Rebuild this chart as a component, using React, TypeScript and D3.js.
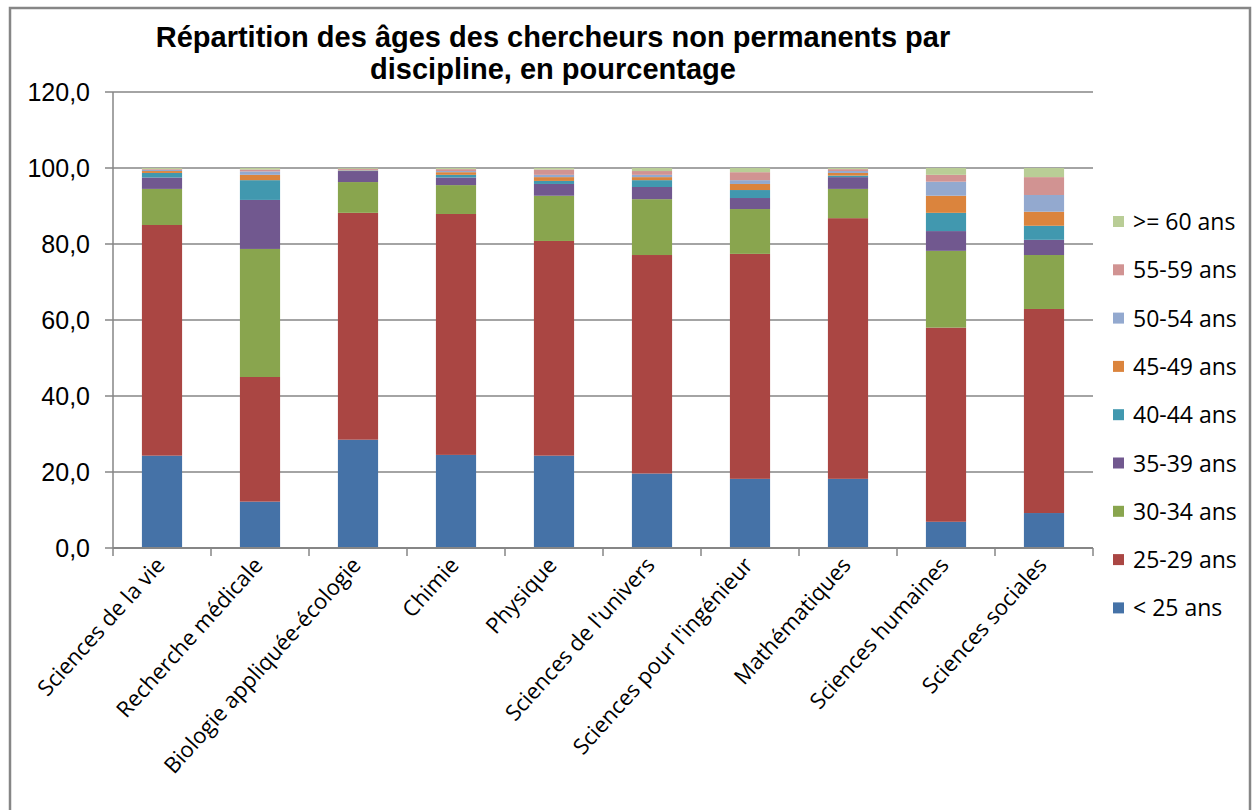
import React from "react";
import * as d3 from "d3";

const categories = [
  "Sciences de la vie",
  "Recherche médicale",
  "Biologie appliquée-écologie",
  "Chimie",
  "Physique",
  "Sciences de l'univers",
  "Sciences pour l'ingénieur",
  "Mathématiques",
  "Sciences humaines",
  "Sciences sociales",
];

const seriesNames = [
  "< 25 ans",
  "25-29 ans",
  "30-34 ans",
  "35-39 ans",
  "40-44 ans",
  "45-49 ans",
  "50-54 ans",
  "55-59 ans",
  ">= 60 ans",
];

const lt25 = [24.3, 12.2, 28.5, 24.5, 24.3, 19.6, 18.2, 18.2, 6.9, 9.2];
const a25_29 = [60.7, 32.8, 59.7, 63.4, 56.5, 57.5, 59.2, 68.6, 51.1, 53.7];
const a30_34 = [9.5, 33.7, 8.1, 7.6, 11.9, 14.7, 11.8, 7.7, 20.2, 14.2];
const a35_39 = [3.0, 12.9, 2.9, 2.0, 3.1, 3.2, 2.9, 3.1, 5.2, 4.0];
const a40_44 = [1.2, 5.2, 0.1, 0.7, 0.8, 1.8, 2.1, 0.4, 4.8, 3.7];
const a45_49 = [0.5, 1.4, 0.1, 0.7, 1.0, 0.8, 1.6, 0.7, 4.5, 3.7];
const a50_54 = [0.3, 0.9, 0.1, 0.3, 0.6, 0.6, 1.0, 0.5, 3.7, 4.4];
const a55_59 = [0.2, 0.5, 0.3, 0.5, 1.4, 1.0, 2.1, 0.5, 1.8, 4.7];
const ge60 = [0.3, 0.4, 0.2, 0.3, 0.4, 0.8, 1.1, 0.3, 1.8, 2.4];

const seriesValues = [lt25, a25_29, a30_34, a35_39, a40_44, a45_49, a50_54, a55_59, ge60];

const colors = [
  "#4572A7",
  "#AA4643",
  "#89A54E",
  "#71588F",
  "#4198AF",
  "#DB843D",
  "#93A9CF",
  "#D19392",
  "#B9CD96",
];

const yTicks = [0, 20, 40, 60, 80, 100, 120];
const titleLines = [
  "Répartition des âges des chercheurs non permanents par",
  "discipline, en pourcentage",
];

export default function App() {
  const W = 1253;
  const H = 810;
  const left = 113;
  const right = 1093;
  const top = 92;
  const bottom = 548;

  const x = d3.scaleBand<string>().domain(categories).range([left, right]).paddingInner(0.59).paddingOuter(0.295);
  const y = d3.scaleLinear().domain([0, 120]).range([bottom, top]);

  const table = categories.map((c, i) => {
    const row: any = { cat: c };
    seriesNames.forEach((s, j) => (row[s] = seriesValues[j][i]));
    return row;
  });
  const stacked = d3.stack<any>().keys(seriesNames)(table);
  const fmt = (v: number) => v.toFixed(1).replace(".", ",");
  const step = (right - left) / categories.length;

  return (
    <svg width={W} height={H} style={{ position: "absolute", left: 0, top: 0, background: "#fff" }}>
      <rect x={0} y={0} width={W} height={H} fill="#fff" />
      <rect x={10} y={8} width={1240} height={820} fill="none" stroke="#868686" strokeWidth={2.5} />
      {titleLines.map((t, i) => (
        <text
          key={i}
          x={553}
          y={47 + i * 32}
          textAnchor="middle"
          fontFamily="Liberation Sans, Arial, sans-serif"
          fontWeight="bold"
          fontSize={29}
          fill="#000"
        >
          {t}
        </text>
      ))}
      {yTicks.map((t) => (
        <g key={t}>
          <line x1={left - 8} x2={right} y1={y(t)} y2={y(t)} stroke="#868686" strokeWidth={1.5} />
          <text
            x={90}
            y={y(t) + 9}
            textAnchor="end"
            fontFamily="Liberation Sans, Arial, sans-serif"
            fontSize={25}
            fill="#000"
          >
            {fmt(t)}
          </text>
        </g>
      ))}
      {stacked.map((layer, j) => (
        <g key={j} fill={colors[j]}>
          {layer.map((d, i) => (
            <rect
              key={i}
              x={x(categories[i])!}
              width={x.bandwidth()}
              y={y(d[1])}
              height={Math.max(0, y(d[0]) - y(d[1]))}
            />
          ))}
        </g>
      ))}
      <line x1={left} x2={left} y1={top} y2={bottom} stroke="#868686" strokeWidth={1.5} />
      <line x1={left} x2={right} y1={bottom} y2={bottom} stroke="#868686" strokeWidth={2} />
      {d3.range(categories.length + 1).map((i) => (
        <line
          key={i}
          x1={left + i * step}
          x2={left + i * step}
          y1={bottom}
          y2={bottom + 8}
          stroke="#868686"
          strokeWidth={1.5}
        />
      ))}
      {categories.map((c) => {
        const cx = x(c)! + x.bandwidth() / 2 + 4;
        const cy = bottom + 18;
        return (
          <text
            key={c}
            transform={`translate(${cx},${cy}) rotate(-48)`}
            textAnchor="end"
            fontFamily="Open Sans, sans-serif"
            fontSize={22}
            fill="#000"
          >
            {c}
          </text>
        );
      })}
      {seriesNames
        .slice()
        .reverse()
        .map((s, k) => {
          const j = seriesNames.length - 1 - k;
          const ly = 222 + k * 48.3;
          return (
            <g key={s}>
              <rect x={1113} y={ly - 6} width={11} height={11} fill={colors[j]} />
              <text
                x={1133}
                y={ly + 8}
                fontFamily="Open Sans, sans-serif"
                fontSize={23}
                fill="#000"
              >
                {s}
              </text>
            </g>
          );
        })}
    </svg>
  );
}
